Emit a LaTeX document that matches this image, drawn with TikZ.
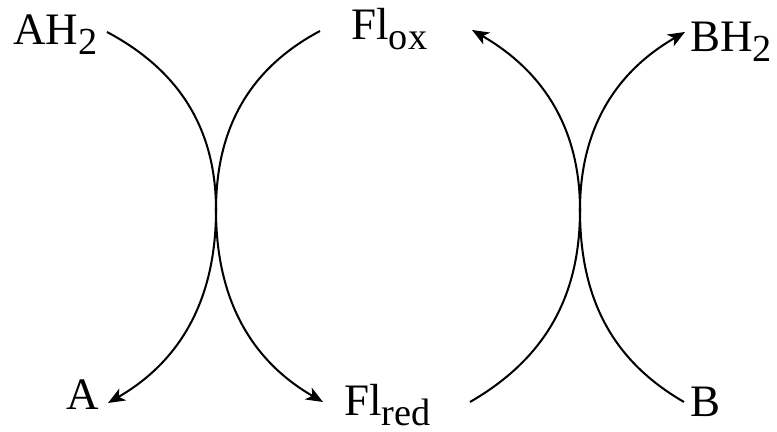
\documentclass[tikz,border=0pt]{standalone}
\usepackage{fontspec}
\setmainfont{Liberation Serif}
\usetikzlibrary{arrows.meta}
\newcommand{\chemsub}[1]{\raisebox{-4.2pt}{\fontsize{17}{17}\selectfont #1}}

\begin{document}
\begin{tikzpicture}[
    x=0.4444pt, y=0.4444pt,
    species/.style={anchor=base west, inner sep=0pt,
      font=\fontsize{20}{24}\selectfont},
    flow/.style={line width=0.9pt},
    flowarrow/.style={flow, -{Stealth[length=7.5pt, width=6pt, inset=2pt]}},
  ]
  \useasboundingbox (0,0) rectangle (777,432);

  % === species ===
  \node[species] (ah2) at (13, 387) {AH\chemsub{2}};
  \node[species] (flox) at (351, 392) {Fl\chemsub{ox}};
  \node[species] (bh2) at (690, 380) {BH\chemsub{2}};
  \node[species] (a) at (66, 22) {A};
  \node[species] (flred) at (344, 16) {Fl\chemsub{red}};
  \node[species] (b) at (690, 15) {B};

  % === left coupling ===
  \coordinate (j1) at (216, 222);
  \coordinate (ah2end) at (107, 400);
  \coordinate (floxleft) at (320, 401);
  \coordinate (atip) at (108, 29);
  \coordinate (flredtip) at (323, 30);

  \draw[flowarrow] (ah2end) to[out=-28, in=90] (j1) to[out=-90, in=30] (atip);
  \draw[flowarrow] (floxleft) to[out=-152, in=90] (j1) to[out=-90, in=150] (flredtip);

  % === right coupling ===
  \coordinate (j2) at (580, 222);
  \coordinate (flredright) at (470, 30);
  \coordinate (bend) at (684, 30);
  \coordinate (floxtip) at (472, 402);
  \coordinate (bh2tip) at (685, 400);

  \draw[flowarrow] (flredright) to[out=30, in=-90] (j2) to[out=90, in=-30] (floxtip);
  \draw[flowarrow] (bend) to[out=150, in=-90] (j2) to[out=90, in=-150] (bh2tip);

\end{tikzpicture}
\end{document}
